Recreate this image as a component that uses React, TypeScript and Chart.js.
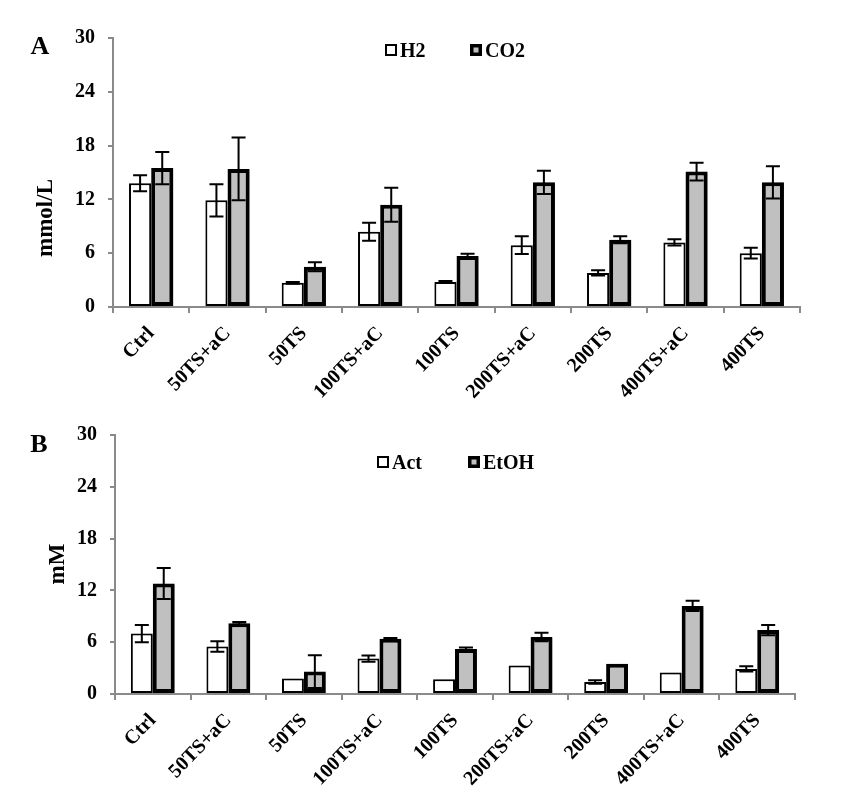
import React, { useEffect, useRef } from "react";
import { Chart, registerables } from "chart.js";
Chart.register(...registerables);

const categories = ["Ctrl", "50TS+aC", "50TS", "100TS+aC", "100TS", "200TS+aC", "200TS", "400TS+aC", "400TS"];
const h2 = [13.8, 11.9, 2.7, 8.4, 2.8, 6.9, 3.8, 7.2, 6.0];
const h2Err = [0.9, 1.8, 0.1, 1.0, 0.1, 1.0, 0.3, 0.35, 0.6];
const co2 = [15.5, 15.4, 4.5, 11.4, 5.7, 13.9, 7.5, 15.1, 13.9];
const co2Err = [1.8, 3.5, 0.5, 1.9, 0.25, 1.3, 0.4, 1.0, 1.8];
const act = [7.0, 5.5, 1.8, 4.1, 1.7, 3.3, 1.4, 2.5, 2.9];
const actErr = [1.0, 0.6, 0, 0.35, 0, 0, 0.2, 0, 0.3];
const etoh = [12.8, 8.2, 2.6, 6.4, 5.2, 6.6, 3.5, 10.2, 7.4];
const etohErr = [1.8, 0.15, 1.9, 0.1, 0.2, 0.5, 0, 0.6, 0.6];
const yTicks = [0, 6, 12, 18, 24, 30];

const FONT = "'Liberation Serif', 'Times New Roman', serif";
const AXIS = "#8a8a8a";

const annotPlugin = {
  id: "annot",
  beforeDatasetsDraw(chart: any) {
    const ctx = chart.ctx;
    ctx.save();
    ctx.shadowColor = "rgba(0,0,0,0.28)";
    ctx.shadowOffsetX = 3;
    ctx.shadowOffsetY = 1;
    ctx.shadowBlur = 3;
  },
  afterDatasetsDraw(chart: any) {
    const ctx = chart.ctx;
    ctx.restore();
    const yScale = chart.scales.y;
    chart.data.datasets.forEach((ds: any, i: number) => {
      const meta = chart.getDatasetMeta(i);
      const errs: number[] = ds.errors || [];
      meta.data.forEach((el: any, j: number) => {
        const e = errs[j];
        if (!e) return;
        const v = ds.data[j];
        const yt = yScale.getPixelForValue(v + e);
        const yb = yScale.getPixelForValue(v - e);
        ctx.save();
        ctx.strokeStyle = "#000";
        ctx.lineWidth = 2;
        ctx.beginPath();
        ctx.moveTo(el.x, yt);
        ctx.lineTo(el.x, yb);
        ctx.moveTo(el.x - 7, yt);
        ctx.lineTo(el.x + 7, yt);
        ctx.moveTo(el.x - 7, yb);
        ctx.lineTo(el.x + 7, yb);
        ctx.stroke();
        ctx.restore();
      });
    });
  },
  afterDraw(chart: any, _args: any, opts: any) {
    const ctx = chart.ctx;
    ctx.save();
    ctx.fillStyle = "#000";
    ctx.font = `bold 26px ${FONT}`;
    ctx.textAlign = "center";
    ctx.textBaseline = "middle";
    ctx.fillText(opts.letter, opts.letterX, opts.letterY);
    ctx.save();
    ctx.translate(opts.titleX, opts.titleY);
    ctx.rotate(-Math.PI / 2);
    ctx.font = `bold 23px ${FONT}`;
    ctx.fillText(opts.title, 0, 0);
    ctx.restore();
    chart.data.datasets.forEach((ds: any, i: number) => {
      const it = opts.legend[i];
      ctx.fillStyle = ds.backgroundColor;
      ctx.fillRect(it.x, it.y - 6, 12, 12);
      ctx.strokeStyle = "#000";
      ctx.lineWidth = ds.legendBorder;
      const b = ds.legendBorder / 2;
      ctx.strokeRect(it.x + b, it.y - 6 + b, 12 - 2 * b, 12 - 2 * b);
      ctx.fillStyle = "#000";
      ctx.font = `bold 20px ${FONT}`;
      ctx.textAlign = "left";
      ctx.textBaseline = "middle";
      ctx.fillText(ds.label, it.x + 15, it.y + 2);
    });
    ctx.restore();
  },
};

function makeConfig(p: any) {
  return {
    type: "bar",
    data: {
      labels: categories,
      datasets: [
        {
          label: p.names[0],
          data: p.s1,
          errors: p.e1,
          backgroundColor: "#ffffff",
          borderColor: "#000",
          borderWidth: 2,
          borderSkipped: false,
          legendBorder: 2,
          categoryPercentage: 0.58,
          barPercentage: 1,
        },
        {
          label: p.names[1],
          data: p.s2,
          errors: p.e2,
          backgroundColor: "#c0c0c0",
          borderColor: "#000",
          borderWidth: 4,
          borderSkipped: false,
          legendBorder: 3.5,
          categoryPercentage: 0.58,
          barPercentage: 1,
        },
      ],
    },
    options: {
      animation: false,
      responsive: true,
      maintainAspectRatio: false,
      layout: { padding: { left: 0, top: p.top, right: p.right, bottom: 0 } },
      plugins: {
        legend: { display: false },
        tooltip: { enabled: false },
        annot: p.annot,
      },
      scales: {
        x: {
          border: { display: true, color: AXIS, width: 2 },
          grid: { offset: true, drawOnChartArea: false, drawTicks: true, tickLength: 6, color: AXIS, lineWidth: 2 },
          ticks: {
            autoSkip: false,
            maxRotation: 46,
            minRotation: 46,
            padding: 9,
            color: "#000",
            font: { family: FONT, size: 20, weight: "bold" },
          },
          afterFit: (s: any) => {
            s.height = p.xHeight;
          },
        },
        y: {
          min: 0,
          max: 30,
          afterBuildTicks: (s: any) => {
            s.ticks = yTicks.map((v) => ({ value: v }));
          },
          border: { display: true, color: AXIS, width: 2 },
          grid: { drawOnChartArea: false, drawTicks: true, tickLength: 5, color: AXIS, lineWidth: 2 },
          ticks: { padding: 13, color: "#000", font: { family: FONT, size: 20, weight: "bold" } },
          afterFit: (s: any) => {
            s.width = p.yWidth;
          },
        },
      },
    },
    plugins: [annotPlugin],
  };
}

function Panel({ cfg, style }: { cfg: any; style: any }) {
  const ref = useRef<HTMLCanvasElement>(null);
  useEffect(() => {
    const chart = new Chart(ref.current as HTMLCanvasElement, makeConfig(cfg) as any);
    return () => chart.destroy();
  }, []);
  return (
    <div style={{ position: "absolute", ...style }}>
      <canvas ref={ref} />
    </div>
  );
}

const panelA = {
  names: ["H2", "CO2"],
  s1: h2,
  e1: h2Err,
  s2: co2,
  e2: co2Err,
  top: 38,
  right: 46,
  yWidth: 113,
  xHeight: 93,
  annot: {
    letter: "A",
    letterX: 40,
    letterY: 47,
    title: "mmol/L",
    titleX: 46,
    titleY: 218,
    legend: [
      { x: 385, y: 50 },
      { x: 470, y: 50 },
    ],
  },
};

const panelB = {
  names: ["Act", "EtOH"],
  s1: act,
  e1: actErr,
  s2: etoh,
  e2: etohErr,
  top: 35,
  right: 51,
  yWidth: 115,
  xHeight: 117,
  annot: {
    letter: "B",
    letterX: 39,
    letterY: 45,
    title: "mM",
    titleX: 58,
    titleY: 164,
    legend: [
      { x: 377, y: 62 },
      { x: 468, y: 62 },
    ],
  },
};

export default function App() {
  return (
    <div style={{ position: "absolute", left: 0, top: 0, width: 846, height: 811, background: "#fff" }}>
      <Panel cfg={panelA} style={{ left: 0, top: 0, width: 846, height: 400 }} />
      <Panel cfg={panelB} style={{ left: 0, top: 400, width: 846, height: 411 }} />
    </div>
  );
}
